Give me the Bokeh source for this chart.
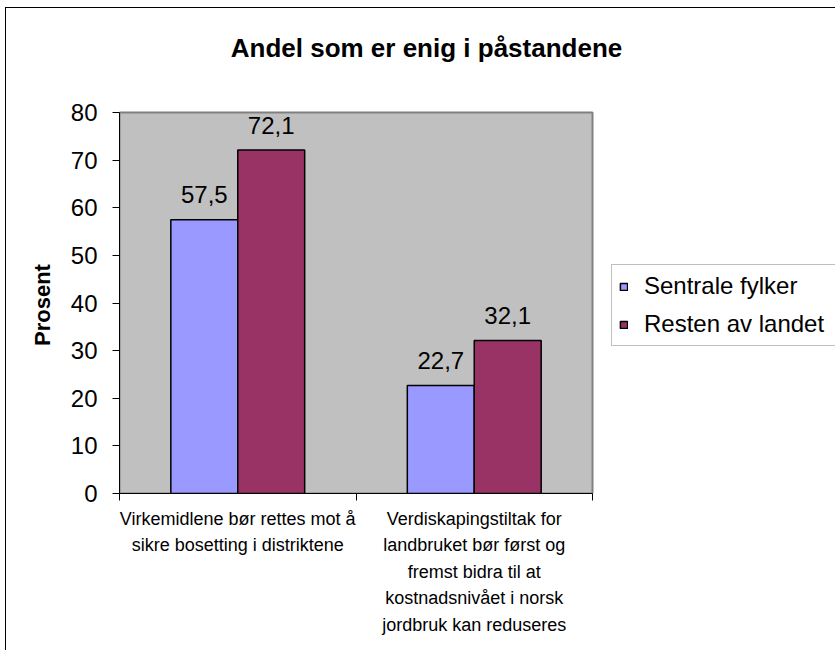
from bokeh.plotting import figure
from bokeh.models import (ColumnDataSource, Range1d, FixedTicker, Legend,
                          LegendItem, Label)
from bokeh.transform import dodge
from bokeh.core.properties import value
from bokeh.embed import file_html
from bokeh.resources import INLINE

# ---- data ----
categories = [
    "Virkemidlene bør rettes mot å\nsikre bosetting i distriktene",
    "Verdiskapingstiltak for\nlandbruket bør først og\nfremst bidra til at\nkostnadsnivået i norsk\njordbruk kan reduseres",
]
series_names = ["Sentrale fylker", "Resten av landet"]
sentrale = [57.5, 22.7]
resten = [72.1, 32.1]
y_ticks = [0, 10, 20, 30, 40, 50, 60, 70, 80]
title_text = "Andel som er enig i påstandene"
y_label = "Prosent"

colors = ["#9999FF", "#993366"]
FONT = "Liberation Sans"

def fmt(v):
    return f"{v:.1f}".replace(".", ",")

n = len(categories)
y_max = y_ticks[-1]
centers = [i + 0.5 for i in range(n)]          # category slot centres
bounds = [float(i) for i in range(n + 1)]      # category slot boundaries

# ---- layout constants (pixels) ----
W, H = 835, 650
AREA_L, AREA_R, AREA_T, AREA_B = 119, 592, 112, 493   # grey plot area
px_x = (AREA_R - AREA_L) / n
px_y = (AREA_B - AREA_T) / y_max
x_end = (W - AREA_L) / px_x        # frame extends to the right edge
y_end = y_max + AREA_T / px_y      # frame extends to the top edge

source = ColumnDataSource(data=dict(
    pos=centers,
    sentrale=sentrale,
    resten=resten,
    sentrale_lbl=[fmt(v) for v in sentrale],
    resten_lbl=[fmt(v) for v in resten],
))

p = figure(
    width=W, height=H, title=None,
    x_range=Range1d(0, x_end),
    y_range=Range1d(0, y_end),
    output_backend="svg", toolbar_location=None,
    min_border_left=AREA_L, min_border_right=0,
    min_border_top=0, min_border_bottom=H - AREA_B,
)

p.background_fill_color = None
p.border_fill_color = None
p.outline_line_color = None
p.xgrid.visible = False
p.ygrid.visible = False
p.styles = {
    "background": "linear-gradient(#000,#000) 5px 7px / 1px 100% no-repeat, "
                  "linear-gradient(#000,#000) 5px 7px / 100% 1px no-repeat, #fff"
}

# grey plot area with its border
p.quad(left=[0], right=[n], bottom=[0], top=[y_max],
       fill_color="#C0C0C0", line_color="#808080", line_width=2)

# title
p.add_layout(Label(x=(426 - AREA_L) / px_x, y=y_max + (AREA_T - 47) / px_y,
                   text=title_text, text_align="center",
                   text_baseline="alphabetic",
                   text_font=FONT, text_font_size="26px",
                   text_font_style="bold", text_color="black"))

# y axis
ya = p.yaxis[0]
ya.ticker = FixedTicker(ticks=y_ticks)
ya.bounds = (0, y_max)
ya.minor_tick_line_color = None
ya.major_tick_out = 7
ya.major_tick_in = 0
ya.major_tick_line_color = "black"
ya.axis_line_color = "black"
ya.major_label_standoff = 15
ya.major_label_text_font = FONT
ya.major_label_text_font_size = "24px"
ya.major_label_text_color = "black"
# trailing no-break spaces centre the label on the grey area, not the frame
ya.axis_label = y_label + "\u00a0" * 19
ya.axis_label_text_font = FONT
ya.axis_label_text_font_size = "22px"
ya.axis_label_text_font_style = "bold"
ya.axis_label_text_color = "black"
ya.axis_label_standoff = 13

# x axis (ticks at category boundaries, labels at centres)
xa = p.xaxis[0]
xa.ticker = FixedTicker(ticks=centers, minor_ticks=bounds)
xa.bounds = (0, n)
xa.major_tick_line_color = None
xa.major_tick_out = 0
xa.major_tick_in = 0
xa.minor_tick_out = 7
xa.minor_tick_in = 0
xa.minor_tick_line_color = "black"
xa.axis_line_color = "black"
xa.major_label_overrides = {c: lbl for c, lbl in zip(centers, categories)}
xa.major_label_standoff = 8
xa.major_label_text_font = FONT
xa.major_label_text_font_size = "18px"
xa.major_label_text_line_height = 1.33
xa.major_label_text_color = "black"

# bars
bw = 0.283
r1 = p.vbar(x=dodge("pos", -bw / 2), top="sentrale", width=bw,
            source=source, fill_color=colors[0], line_color="black", line_width=1.5)
r2 = p.vbar(x=dodge("pos", bw / 2), top="resten", width=bw,
            source=source, fill_color=colors[1], line_color="black", line_width=1.5)

# value labels
for off, col in [(-bw / 2, "sentrale"), (bw / 2, "resten")]:
    p.text(x=dodge("pos", off), y=col, text=col + "_lbl",
           source=source, text_align="center", text_baseline="alphabetic",
           y_offset=-25, text_font=value(FONT), text_font_size="24px",
           text_color="black")

legend = Legend(items=[LegendItem(label=series_names[0], renderers=[r1]),
                       LegendItem(label=series_names[1], renderers=[r2])],
                location=(611 - AREA_L, AREA_B - 346), margin=0, padding=7,
                spacing=10, glyph_width=9, glyph_height=9, label_standoff=16,
                label_width=200,
                label_text_font=FONT, label_text_font_size="24px",
                label_text_color="black",
                border_line_color="#808080", border_line_width=1.5,
                background_fill_color="white", background_fill_alpha=1.0)
p.add_layout(legend, "center")

open("out.html", "w").write(file_html(p, INLINE))
